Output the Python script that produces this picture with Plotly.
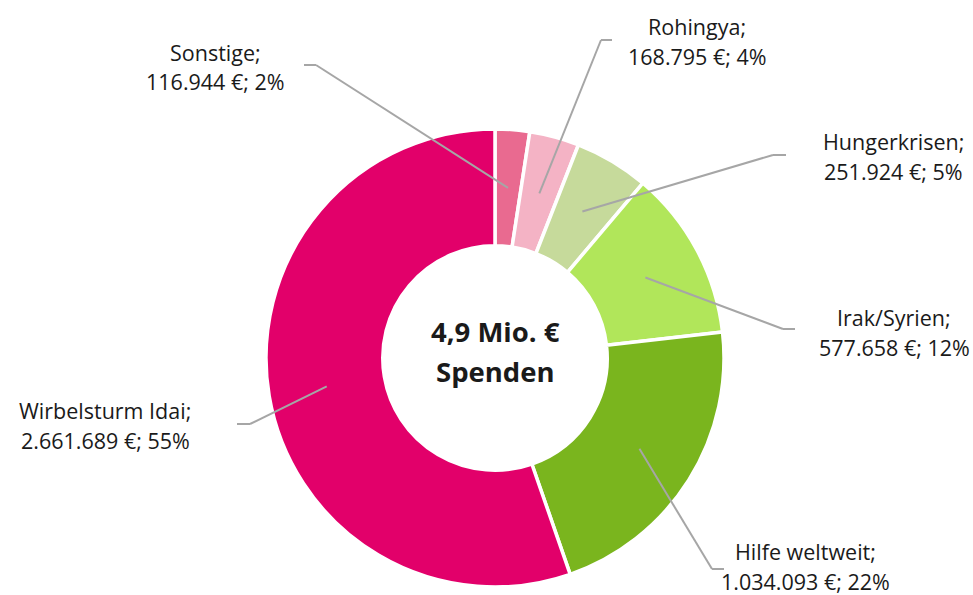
import math
import plotly.graph_objects as go

W, H = 973, 595

categories = ["Sonstige", "Rohingya", "Hungerkrisen", "Irak/Syrien", "Hilfe weltweit", "Wirbelsturm Idai"]
values = [116944, 168795, 251924, 577658, 1034093, 2661689]
value_labels = ["116.944 €", "168.795 €", "251.924 €", "577.658 €", "1.034.093 €", "2.661.689 €"]
percent_labels = ["2%", "4%", "5%", "12%", "22%", "55%"]
colors = ["#E96A90", "#F4B3C5", "#C6DA9B", "#B1E65A", "#7AB51E", "#E2006A"]
center_lines = ["4,9 Mio. €", "Spenden"]

# layout: label centre (px), leader elbow (px), horizontal stub end (px)
label_pos = [(215, 67), (697, 42), (893, 156), (894, 332), (805, 566), (105, 425)]
elbow = [(316, 65), (601, 40), (773, 155), (783, 329), (712, 569), (250, 424)]
stub = [(304, 65), (612, 40), (786, 155), (795, 329), (724, 569), (237, 424)]

cx, cy, R = 495, 358, 229
hole = 0.49
FONT = "Open Sans, sans-serif"


def px(x):
    return x / W


def py(y):
    return 1 - y / H


fig = go.Figure(go.Pie(
    labels=categories, values=values, sort=False, direction="clockwise", rotation=0,
    hole=hole, textinfo="none", hoverinfo="label+value+percent",
    marker=dict(colors=colors, line=dict(color="white", width=3.5)),
    domain=dict(x=[(cx - R) / W, (cx + R) / W], y=[(H - cy - R) / H, (H - cy + R) / H]),
    showlegend=False,
))

total = sum(values)
cum = 0
shapes = []
annotations = []
rm = R * (1 + hole) / 2
line = dict(color="#A6A6A6", width=2)
for i, v in enumerate(values):
    mid = (cum + v / 2) / total * 2 * math.pi
    cum += v
    ax = cx + rm * math.sin(mid)
    ay = cy - rm * math.cos(mid)
    shapes.append(dict(type="line", xref="paper", yref="paper", x0=px(ax), y0=py(ay),
                       x1=px(elbow[i][0]), y1=py(elbow[i][1]), line=line))
    shapes.append(dict(type="line", xref="paper", yref="paper", x0=px(elbow[i][0]), y0=py(elbow[i][1]),
                       x1=px(stub[i][0]), y1=py(stub[i][1]), line=line))
    lx, ly = label_pos[i]
    for k, txt in enumerate([f"{categories[i]};", f"{value_labels[i]}; {percent_labels[i]}"]):
        annotations.append(dict(
            x=px(lx), y=py(ly - 15 + 30 * k), xref="paper", yref="paper", showarrow=False,
            text=txt, font=dict(family=FONT, size=21.5, color="#1A1A1A"),
            xanchor="center", yanchor="middle"))

for k, txt in enumerate(center_lines):
    annotations.append(dict(x=px(cx), y=py(331 + 40 * k), xref="paper", yref="paper", showarrow=False,
                            text=f"<b>{txt}</b>", xanchor="center", yanchor="middle",
                            font=dict(family=FONT, size=27.5, color="#1A1A1A")))

fig.update_layout(width=W, height=H, margin=dict(l=0, r=0, t=0, b=0),
                  paper_bgcolor="white", plot_bgcolor="white",
                  shapes=shapes, annotations=annotations)
fig.write_html("out.html", config={"displayModeBar": False},
               post_script="document.body.style.margin='0';")
